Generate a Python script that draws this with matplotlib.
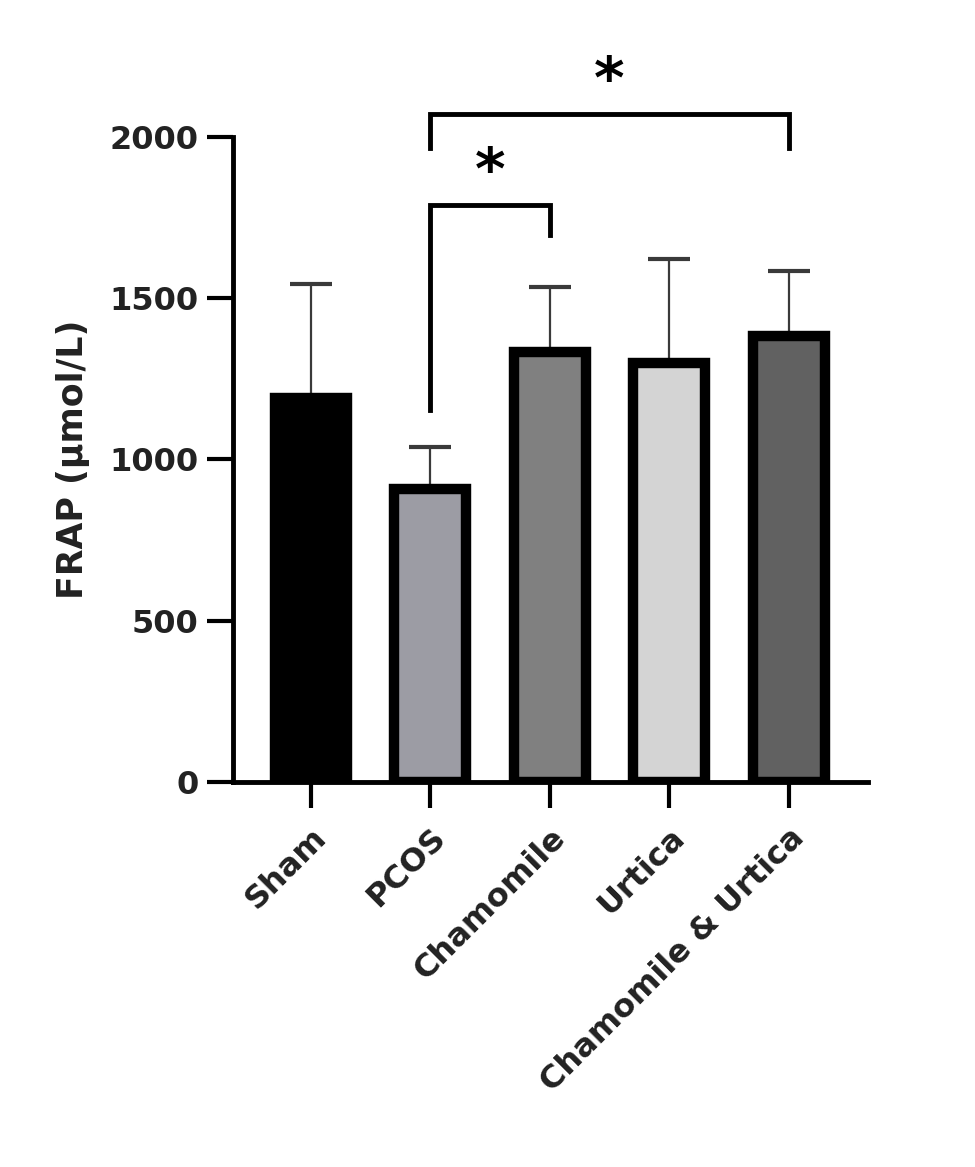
import numpy as np
import matplotlib.pyplot as plt

groups = ['Sham', 'PCOS', 'Chamomile', 'Urtica', 'Chamomile & Urtica']
frap_mean = [1191, 908, 1333, 1299, 1383]
frap_sd = [353, 131, 202, 323, 201]
bar_colors = ['#000000', '#9c9ca4', '#808080', '#d4d4d4', '#616161']

# significance brackets: (left group, right group, bracket height, left leg end, right leg end)
brackets = [(1, 2, 1789, 1153, 1696), (1, 4, 2071, 1966, 1966)]

plt.rcParams['font.family'] = ['DejaVu Sans']
plt.rcParams['font.weight'] = 'bold'

fig = plt.figure(figsize=(9.75, 11.67), dpi=100)
ax = fig.add_axes([0.239, 0.330, 0.651, 0.5527])

x = np.arange(len(groups))
ax.errorbar(x, frap_mean, yerr=[np.zeros(len(x)), frap_sd], fmt='none',
            ecolor='#3a3a3a', elinewidth=1.6, capsize=15, capthick=3, zorder=1)
ax.bar(x, frap_mean, width=0.6, color=bar_colors, edgecolor='black',
       linewidth=7.5, zorder=2)

for l, r, h, hl, hr in brackets:
    ax.plot([l, l, r, r], [hl, h, h, hr], color='black', lw=3.5,
            clip_on=False, solid_joinstyle='miter', zorder=3)
    ax.text((l + r) / 2, h + 100, '*', ha='center', va='center',
            fontsize=42, fontweight='bold', clip_on=False)

ax.set_xlim(-0.65, 4.66)
ax.set_ylim(0, 2000)
ax.set_yticks([0, 500, 1000, 1500, 2000])
ax.set_xticks(x)
ax.set_xticklabels(groups, rotation=45, ha='right', rotation_mode='anchor',
                   fontsize=23, fontweight='bold', color='#222222')
for lbl in ax.get_yticklabels():
    lbl.set_fontsize(23)
    lbl.set_fontweight('bold')
    lbl.set_color('#222222')
ax.set_ylabel('FRAP (µmol/L)', fontsize=25, fontweight='bold',
              color='#222222', labelpad=14)

for s in ['top', 'right']:
    ax.spines[s].set_visible(False)
for s in ['left', 'bottom']:
    ax.spines[s].set_linewidth(3.5)
ax.tick_params(axis='both', length=19, width=3, pad=6)
ax.tick_params(axis='x', pad=10)

fig.savefig('out.png', dpi=100)
